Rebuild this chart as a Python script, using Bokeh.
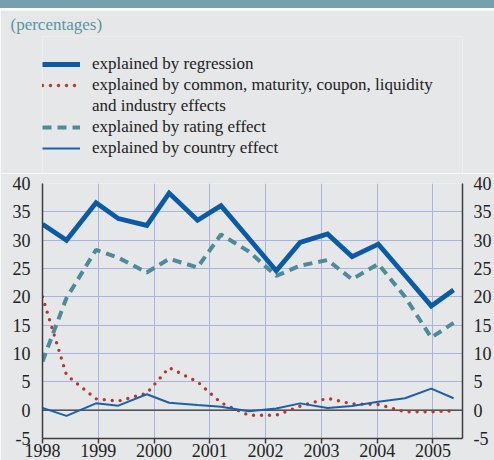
from bokeh.plotting import figure
from bokeh.models import LinearAxis, FixedTicker, Span, Legend, LegendItem, Title, Range1d, Div
from bokeh.layouts import column
from bokeh.embed import file_html
from bokeh.resources import INLINE

# ---- data ----
periods = [1998.0, 1998.43, 1998.96, 1999.36, 1999.87, 2000.27, 2000.78, 2001.2, 2001.7,
           2002.19, 2002.62, 2003.11, 2003.55, 2004.02, 2004.5, 2004.97, 2005.37]
regression = [32.8, 30.0, 36.6, 33.8, 32.6, 38.3, 33.5, 36.1, 30.3,
              24.6, 29.6, 31.1, 27.1, 29.3, 23.8, 18.4, 21.2]
common_effects = [20.0, 6.2, 2.0, 1.6, 3.0, 7.5, 5.0, 1.3, -0.9,
                  -0.9, 0.7, 2.1, 1.1, 1.0, -0.3, -0.3, -0.1]
rating_effect = [8.6, 19.8, 28.3, 26.9, 24.3, 26.7, 25.2, 31.0, 28.0,
                 23.7, 25.5, 26.5, 23.1, 25.8, 20.0, 12.8, 15.4]
country_effect = [0.4, -1.0, 1.2, 0.8, 2.8, 1.3, 0.9, 0.6, -0.2,
                  0.3, 1.2, 0.4, 0.75, 1.5, 2.1, 3.8, 2.1]

year_ticks = [1998, 1999, 2000, 2001, 2002, 2003, 2004, 2005]
value_ticks = [-5, 0, 5, 10, 15, 20, 25, 30, 35, 40]
value_tick_labels = ["-5", "0", "5", "10", "15", "20", "25", "30", "35", "40"]
unit_label = "(percentages)"
series_labels = [
    "explained by regression",
    "explained by common, maturity, coupon, liquidity",
    "and industry effects",
    "explained by rating effect",
    "explained by country effect",
]

# ---- styles ----
BG = "#e6e7e9"
TEAL_BAR = "#76a0ae"
GRID = "#a9b3dd"
AXIS = "#3c3c3c"
FONT = "Liberation Serif"
STYLES = {
    "regression": dict(line_color="#0b5aa6", line_width=4.8, line_join="miter"),
    "common": dict(line_color="#b3382e", line_width=3.4, line_dash="0 8",
                   line_cap="round", line_join="round"),
    "rating": dict(line_color="#4d8b9b", line_width=4, line_dash="9 6"),
    "country": dict(line_color="#1c60aa", line_width=2),
}

top_bar = Div(text="", width=494, height=10, margin=0,
              styles={"background-color": TEAL_BAR, "border-bottom": "2px solid white",
                      "box-sizing": "border-box", "width": "494px", "height": "10px"})

# ---- header figure: unit note and legend ----
head = figure(width=494, height=163, title=None, x_axis_type=None, y_axis_type=None,
              x_range=Range1d(0, 1), y_range=Range1d(0, 1),
              toolbar_location=None, output_backend="svg",
              min_border_left=42, min_border_right=29, min_border_top=0, min_border_bottom=0,
              background_fill_color=BG, border_fill_color=BG, outline_line_color=None)
head.add_layout(Title(text=unit_label, align="left", offset=-32, standoff=5,
                      text_font=FONT, text_font_size="17px", text_font_style="normal",
                      text_color="#5c95a2"), "above")

# legend-only copies of the series (their data lie outside this panel's ranges)
h_reg = head.line(periods, regression, **STYLES["regression"])
h_com = head.line(periods, common_effects, **STYLES["common"])
h_blank = head.line(periods, country_effect, line_alpha=0)
h_rat = head.line(periods, rating_effect, **STYLES["rating"])
h_cty = head.line(periods, country_effect, **STYLES["country"])

legend = Legend(items=[
    LegendItem(label=series_labels[0], renderers=[h_reg]),
    LegendItem(label=series_labels[1], renderers=[h_com]),
    LegendItem(label=series_labels[2], renderers=[h_blank]),
    LegendItem(label=series_labels[3], renderers=[h_rat]),
    LegendItem(label=series_labels[4], renderers=[h_cty]),
], location=(0, 15), orientation="vertical",
    label_text_font=FONT, label_text_font_size="17px", label_text_color="#222222",
    glyph_width=38, glyph_height=20, label_height=20, label_standoff=12, spacing=1,
    padding=0, margin=0, background_fill_alpha=0, border_line_alpha=0)
head.add_layout(legend, "center")

# ---- main chart ----
p = figure(width=494, height=287, title=None,
           x_range=Range1d(1998, 2005.53), y_range=Range1d(-5, 40),
           toolbar_location=None, output_backend="svg",
           min_border_left=42, min_border_right=29, min_border_top=10, min_border_bottom=22,
           background_fill_color=BG, border_fill_color=BG, outline_line_color=None)

p.xgrid.ticker = FixedTicker(ticks=year_ticks)
p.ygrid.ticker = FixedTicker(ticks=value_ticks)
for g in (p.xgrid, p.ygrid):
    g.grid_line_color = GRID
    g.grid_line_width = 1

p.xaxis.ticker = FixedTicker(ticks=year_ticks)
p.xaxis.major_tick_out = 5
p.xaxis.major_tick_in = 0
p.xaxis.minor_tick_line_color = None
p.xaxis.major_label_standoff = 0
p.xaxis.axis_line_color = AXIS
p.xaxis.axis_line_width = 1.5
p.xaxis.major_tick_line_color = AXIS
p.xaxis.major_tick_line_width = 1.5

p.yaxis.ticker = FixedTicker(ticks=value_ticks)
p.yaxis.major_label_standoff = 12
right_axis = LinearAxis(ticker=FixedTicker(ticks=value_ticks), major_label_standoff=11)
p.add_layout(right_axis, "right")

for ax in p.yaxis:
    ax.major_tick_out = 0
    ax.major_tick_in = 0
    ax.minor_tick_line_color = None
    ax.axis_line_color = AXIS
    ax.axis_line_width = 1.5
    ax.major_label_overrides = dict(zip(value_ticks, value_tick_labels))

for ax in p.xaxis + p.yaxis:
    ax.major_label_text_font = FONT
    ax.major_label_text_font_size = "18px"
    ax.major_label_text_color = "#222222"

p.add_layout(Span(location=0, dimension="width", line_color="#333333",
                  line_width=1.3, level="underlay"))

p.line(periods, regression, **STYLES["regression"])
p.line(periods, common_effects, **STYLES["common"])
p.line(periods, rating_effect, **STYLES["rating"])
p.line(periods, country_effect, **STYLES["country"])

layout = column(top_bar, head, p, spacing=0)
open("out.html", "w").write(file_html(layout, INLINE))
